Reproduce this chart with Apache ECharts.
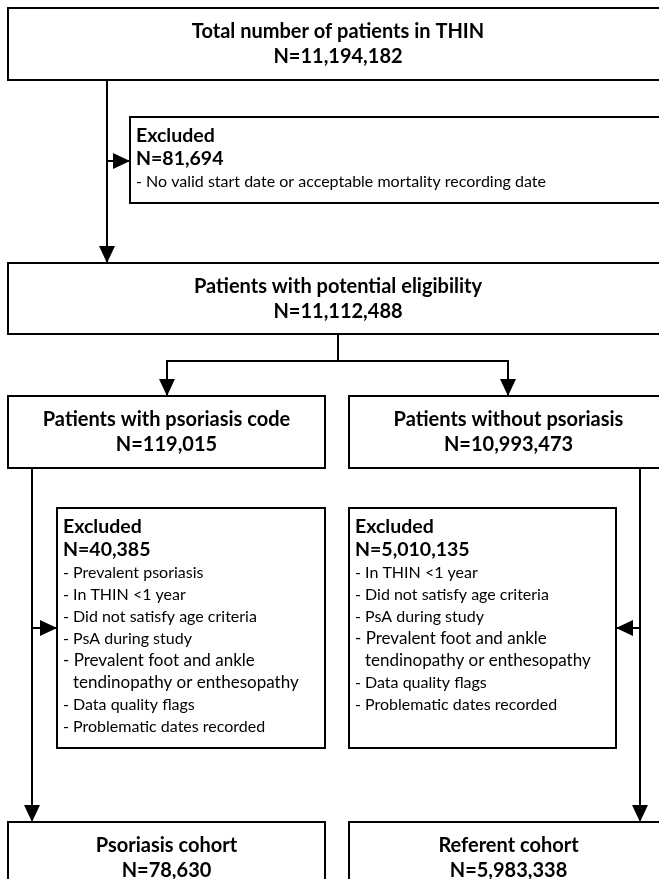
<!DOCTYPE html>
<html>
<head>
<meta charset="utf-8">
<script src="https://cdn.jsdelivr.net/npm/echarts@6/dist/echarts.min.js"></script>
<style>
  html, body { margin: 0; padding: 0; background: #fff; }
  #main { width: 659px; height: 879px; }
</style>
</head>
<body>
<div id="main"></div>
<script>
// flow stages (main boxes)
const stageTitles = [
    'Total number of patients in THIN',
    'Patients with potential eligibility',
    'Patients with psoriasis code',
    'Patients without psoriasis',
    'Psoriasis cohort',
    'Referent cohort'
];
const stageCounts = [11194182, 11112488, 119015, 10993473, 78630, 5983338];

// exclusion boxes
const excludedCounts = [81694, 40385, 5010135];
const excludedReasons = [
    ['No valid start date or acceptable mortality recording date'],
    ['Prevalent psoriasis', 'In THIN <1 year', 'Did not satisfy age criteria', 'PsA during study',
     'Prevalent foot and ankle\ntendinopathy or enthesopathy', 'Data quality flags', 'Problematic dates recorded'],
    ['In THIN <1 year', 'Did not satisfy age criteria', 'PsA during study',
     'Prevalent foot and ankle\ntendinopathy or enthesopathy', 'Data quality flags', 'Problematic dates recorded']
];

// layout, in axis units (x 0..659, y 0..879 top-down)
const stageBoxes = [[8, 8, 668, 80], [8, 263, 668, 334], [8, 396, 325, 468], [349, 396, 668, 468], [8, 822, 325, 905], [349, 822, 668, 905]];
const excludedBoxes = [[130, 117, 668, 203], [57, 508, 325, 748], [349, 508, 616, 748]];
const connectors = [
    [[107, 80], [107, 263]],
    [[107, 161], [130, 161]],
    [[338, 334], [338, 361], [167, 361], [167, 396]],
    [[338, 361], [508, 361], [508, 396]],
    [[32, 468], [32, 822]],
    [[32, 628], [57, 628]],
    [[640, 468], [640, 822]],
    [[640, 628], [616, 628]]
];

const FONT = 'Lato';
const fmt = n => 'N=' + n.toLocaleString('en-US');

function txt(x, y, text, size, weight, align) {
    return {
        type: 'text',
        style: {
            x: x, y: y, text: text, fill: '#000',
            fontFamily: FONT, fontSize: size, fontWeight: weight,
            align: align, verticalAlign: 'middle'
        }
    };
}

function box(p0, p1) {
    return { type: 'rect', shape: { x: p0[0], y: p0[1], width: p1[0] - p0[0], height: p1[1] - p0[1] },
             style: { fill: '#fff', stroke: '#000', lineWidth: 2 } };
}

function renderStage(params, api) {
    const i = params.dataIndex;
    const b = stageBoxes[i];
    const p0 = api.coord([b[0], b[1]]);
    const p1 = api.coord([b[2], b[3]]);
    const cx = (p0[0] + p1[0]) / 2;
    return {
        type: 'group',
        children: [
            box(p0, p1),
            txt(cx, p0[1] + 24, stageTitles[i], 20, 'bold', 'center'),
            txt(cx, p0[1] + 49, fmt(stageCounts[i]), 20, 'bold', 'center')
        ]
    };
}

function renderExcluded(params, api) {
    const i = params.dataIndex;
    const b = excludedBoxes[i];
    const p0 = api.coord([b[0], b[1]]);
    const p1 = api.coord([b[2], b[3]]);
    const x = p0[0] + 6;
    const kids = [
        box(p0, p1),
        txt(x, p0[1] + 19, 'Excluded', 19.5, 'bold', 'left'),
        txt(x, p0[1] + 42, fmt(excludedCounts[i]), 19.5, 'bold', 'left')
    ];
    let y = p0[1] + 65;
    excludedReasons[i].forEach(r => {
        const lines = r.split('\n');
        lines.forEach((line, k) => {
            // the wrapped item is set a little larger in the original
            const size = lines.length > 1 ? 17 : 16;
            kids.push(txt(x + (k ? 10 : 0), y, (k ? '' : '- ') + line, size, 'normal', 'left'));
            y += 22;
        });
    });
    return { type: 'group', children: kids };
}

function renderConnector(params, api) {
    const pts = connectors[params.dataIndex].map(p => api.coord(p));
    const a = pts[pts.length - 1];
    const b = pts[pts.length - 2];
    const len = Math.hypot(a[0] - b[0], a[1] - b[1]);
    const ux = (a[0] - b[0]) / len, uy = (a[1] - b[1]) / len;
    const L = 17, hw = 8;
    return {
        type: 'group',
        children: [
            { type: 'polyline', shape: { points: pts }, style: { stroke: '#000', lineWidth: 2, fill: null } },
            { type: 'polygon',
              shape: { points: [a, [a[0] - ux * L - uy * hw, a[1] - uy * L + ux * hw], [a[0] - ux * L + uy * hw, a[1] - uy * L - ux * hw]] },
              style: { fill: '#000' } }
        ]
    };
}

const chart = echarts.init(document.getElementById('main'), null, { renderer: 'canvas' });
chart.setOption({
    backgroundColor: '#fff',
    animation: false,
    grid: { left: 0, right: 0, top: 0, bottom: 0 },
    xAxis: { type: 'value', min: 0, max: 659, show: false },
    yAxis: { type: 'value', min: 0, max: 879, inverse: true, show: false },
    series: [
        { type: 'custom', renderItem: renderConnector, data: connectors.map((c, i) => i), clip: false, z: 1 },
        { type: 'custom', renderItem: renderStage, data: stageTitles.map((t, i) => i), clip: false, z: 2 },
        { type: 'custom', renderItem: renderExcluded, data: excludedCounts.map((t, i) => i), clip: false, z: 2 }
    ]
});
window.addEventListener('resize', () => chart.resize());
</script>
</body>
</html>
